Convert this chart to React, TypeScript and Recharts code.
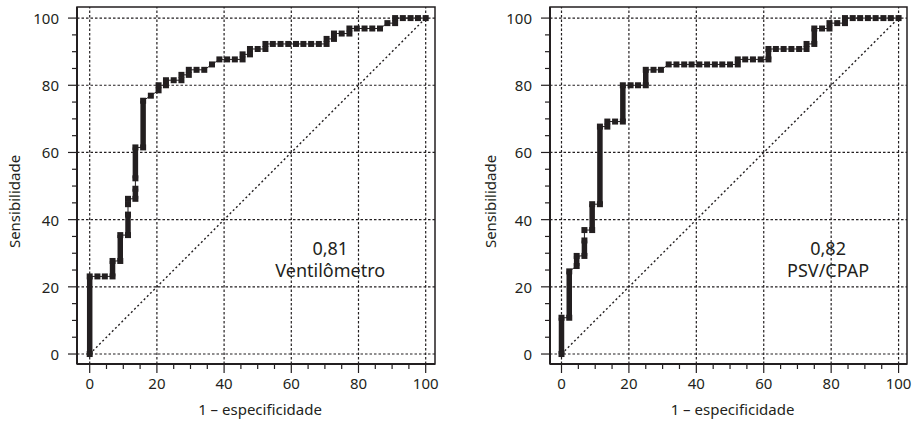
import React from 'react';
import {
  ComposedChart,
  Scatter,
  XAxis,
  YAxis,
  ReferenceLine,
  ReferenceArea,
  ReferenceDot,
  ErrorBar,
} from 'recharts';

// axis ticks (minor every 5, labelled/grid every 20)
const axisTicks = [0, 5, 10, 15, 20, 25, 30, 35, 40, 45, 50, 55, 60, 65, 70, 75, 80, 85, 90, 95, 100];
const gridValues = [0, 20, 40, 60, 80, 100];

// Ventilômetro ROC curve (1 - especificidade, sensibilidade)
const ventFpr = [
  0, 0, 2.3, 4.5, 6.8, 6.8, 9.1, 9.1, 11.4, 11.4, 11.4, 11.4, 13.6, 13.6, 13.6, 13.6, 15.9, 15.9,
  18.2, 20.5, 20.5, 22.7, 22.7, 25, 27.3, 27.3, 29.5, 29.5, 31.8, 34.1, 36.4, 38.6, 40.9, 43.2,
  45.5, 45.5, 47.7, 47.7, 50, 52.3, 52.3, 54.5, 56.8, 59.1, 61.4, 63.6, 65.9, 68.2, 70.5, 70.5,
  72.7, 72.7, 75, 77.3, 77.3, 79.5, 81.8, 84.1, 86.4, 88.6, 90.9, 90.9, 93.2, 95.5, 97.7, 100,
];
const ventTpr = [
  0, 23.1, 23.1, 23.1, 23.1, 27.7, 27.7, 35.4, 35.4, 41.5, 44.6, 46.2, 46.2, 49.2, 52.3, 61.5, 61.5, 75.4,
  76.9, 78.5, 80, 80, 81.5, 81.5, 81.5, 83.1, 83.1, 84.6, 84.6, 84.6, 86.2, 87.7, 87.7, 87.7,
  87.7, 89.2, 89.2, 90.8, 90.8, 90.8, 92.3, 92.3, 92.3, 92.3, 92.3, 92.3, 92.3, 92.3, 92.3, 93.8,
  93.8, 95.4, 95.4, 95.4, 96.9, 96.9, 96.9, 96.9, 96.9, 98.5, 98.5, 100, 100, 100, 100, 100,
];
// long vertical runs drawn as solid bars
const ventRunX = [0, 6.8, 9.1, 11.4, 13.6, 13.6, 15.9];
const ventRunFrom = [0, 23.1, 27.7, 35.4, 46.2, 52.3, 61.5];
const ventRunTo = [23.1, 27.7, 35.4, 41.5, 49.2, 61.5, 75.4];

// PSV/CPAP ROC curve
const psvFpr = [
  0, 0, 2.3, 2.3, 4.5, 4.5, 6.8, 6.8, 6.8, 9.1, 9.1, 11.4, 11.4, 13.6, 13.6, 15.9, 18.2, 18.2,
  20.5, 22.7, 25, 25, 27.3, 29.5, 31.8, 34.1, 36.4, 38.6, 40.9, 43.2, 45.5, 47.7, 50, 52.3, 52.3,
  54.5, 56.8, 59.1, 61.4, 61.4, 63.6, 65.9, 68.2, 70.5, 72.7, 72.7, 75, 75, 77.3, 79.5, 79.5,
  81.8, 84.1, 84.1, 86.4, 88.6, 90.9, 93.2, 95.5, 97.7, 100,
];
const psvTpr = [
  0, 10.8, 10.8, 24.6, 26.2, 29.2, 29.2, 33.8, 36.9, 36.9, 44.6, 44.6, 67.7, 67.7, 69.2, 69.2, 69.2, 80,
  80, 80, 80, 84.6, 84.6, 84.6, 86.2, 86.2, 86.2, 86.2, 86.2, 86.2, 86.2, 86.2, 86.2, 86.2, 87.7,
  87.7, 87.7, 87.7, 87.7, 90.8, 90.8, 90.8, 90.8, 90.8, 90.8, 92.3, 92.3, 96.9, 96.9, 96.9, 98.5,
  98.5, 98.5, 100, 100, 100, 100, 100, 100, 100, 100,
];
const psvRunX = [0, 2.3, 4.5, 6.8, 9.1, 11.4, 18.2, 25, 61.4, 75];
const psvRunFrom = [0, 10.8, 26.2, 29.2, 36.9, 44.6, 69.2, 80, 87.7, 92.3];
const psvRunTo = [10.8, 24.6, 29.2, 33.8, 44.6, 67.7, 80, 84.6, 90.8, 96.9];

const INK = '#231f20';
const FONT = '"Noto Sans", sans-serif';
const Y_DOMAIN: [number, number] = [-2.97, 103.3];

function XTick(props: any) {
  const { x, y, payload } = props;
  const major = payload.value % 20 === 0;
  return (
    <g>
      <line x1={x} x2={x} y1={y} y2={y + (major ? 9 : 5)} stroke={INK} strokeWidth={1.2} />
      {major && (
        <text x={x} y={y + 25} textAnchor="middle" fontSize={15} fill={INK} fontFamily={FONT}>
          {payload.value}
        </text>
      )}
    </g>
  );
}

function YTick(props: any) {
  const { x, y, payload } = props;
  const major = payload.value % 20 === 0;
  return (
    <g>
      <line x1={x - (major ? 9 : 5)} x2={x} y1={y} y2={y} stroke={INK} strokeWidth={1.2} />
      {major && (
        <text x={x - 18} y={y} textAnchor="end" dominantBaseline="central" fontSize={15} fill={INK} fontFamily={FONT}>
          {payload.value}
        </text>
      )}
    </g>
  );
}

const Square = (p: any) => <rect x={p.cx - 3} y={p.cy - 3} width={6} height={6} fill={INK} />;

interface PanelProps {
  width: number
  axisWidth: number
  rightMargin: number
  xDomain: [number, number]
  fpr: number[]
  tpr: number[]
  runX: number[]
  runFrom: number[]
  runTo: number[]
  auc: string
  name: string
  noteX: number
  yLabelX: number
}

function RocPanel({ width, axisWidth, rightMargin, xDomain, fpr, tpr, runX, runFrom, runTo, auc, name, noteX, yLabelX }: PanelProps) {
  const points = fpr.map((x, i) => ({ x, y: tpr[i] }));
  const runs = runX.map((x, i) => ({ x, y: runFrom[i], err: [0, runTo[i] - runFrom[i]] }));

  return (
    <ComposedChart width={width} height={430} margin={{ top: 7, right: rightMargin, bottom: 0, left: 0 }}>
      <XAxis
        type="number"
        dataKey="x"
        domain={xDomain}
        allowDataOverflow
        ticks={axisTicks}
        interval={0}
        tick={<XTick />}
        tickLine={false}
        tickSize={0}
        tickMargin={0}
        axisLine={{ stroke: INK, strokeWidth: 2 }}
        height={66}
        label={{ value: '1 – especificidade', position: 'insideBottom', offset: 15, dx: 4, fill: INK, fontSize: 15, fontFamily: FONT }}
      />
      <YAxis
        type="number"
        dataKey="y"
        domain={Y_DOMAIN}
        allowDataOverflow
        ticks={axisTicks}
        interval={0}
        tick={<YTick />}
        tickLine={false}
        tickSize={0}
        tickMargin={0}
        axisLine={{ stroke: INK, strokeWidth: 2 }}
        width={axisWidth}
        label={{
          content: (p: any) => {
            const vb = p.viewBox;
            const cy = vb.y + vb.height / 2 + 16;
            return (
              <text x={yLabelX} y={cy} transform={`rotate(-90, ${yLabelX}, ${cy})`} textAnchor="middle" dominantBaseline="central" fontSize={15} fill={INK} fontFamily={FONT}>
                Sensibilidade
              </text>
            );
          },
        }}
      />
      <ReferenceArea x1={xDomain[0]} x2={xDomain[1]} y1={Y_DOMAIN[0]} y2={Y_DOMAIN[1]} fill="none" stroke={INK} strokeWidth={1.5} />
      {gridValues.map((v) => (
        <ReferenceLine key={'gx' + v} x={v} stroke={INK} strokeDasharray="2.5 2" strokeWidth={1.2} />
      ))}
      {gridValues.map((v) => (
        <ReferenceLine key={'gy' + v} y={v} stroke={INK} strokeDasharray="2.5 2" strokeWidth={1.2} />
      ))}
      <ReferenceLine segment={[{ x: 0, y: 0 }, { x: 100, y: 100 }]} stroke={INK} strokeDasharray="2 2.5" strokeWidth={1.4} />
      <Scatter data={runs} isAnimationActive={false} shape={() => <g />}>
        <ErrorBar dataKey="err" direction="y" width={0} stroke={INK} strokeWidth={5.5} isAnimationActive={false} />
      </Scatter>
      <Scatter data={points} isAnimationActive={false} line={{ stroke: INK, strokeWidth: 1 }} shape={Square} />
      <ReferenceDot
        x={noteX}
        y={26.2}
        r={2}
        fill="none"
        stroke="none"
        label={{
          content: (p: any) => {
            const vb = p.viewBox;
            const cx = vb.x + vb.width / 2;
            const cy = vb.y + vb.height / 2;
            return (
              <text textAnchor="middle" fontSize={18} fill={INK} fontFamily={FONT}>
                <tspan x={cx} y={cy - 11}>{auc}</tspan>
                <tspan x={cx} y={cy + 11}>{name}</tspan>
              </text>
            );
          },
        }}
      />
    </ComposedChart>
  );
}

export default function App() {
  return (
    <div style={{ position: 'absolute', left: 0, top: 0, width: 916, height: 430, background: '#fff', display: 'flex' }}>
      <RocPanel
        width={460}
        axisWidth={77}
        rightMargin={25}
        xDomain={[-3.78, 102.77]}
        fpr={ventFpr}
        tpr={ventTpr}
        runX={ventRunX}
        runFrom={ventRunFrom}
        runTo={ventRunTo}
        auc="0,81"
        name="Ventilômetro"
        noteX={71.6}
        yLabelX={14}
      />
      <RocPanel
        width={456}
        axisWidth={90}
        rightMargin={9}
        xDomain={[-3.41, 102.5]}
        fpr={psvFpr}
        tpr={psvTpr}
        runX={psvRunX}
        runFrom={psvRunFrom}
        runTo={psvRunTo}
        auc="0,82"
        name="PSV/CPAP"
        noteX={79.1}
        yLabelX={30}
      />
    </div>
  );
}
